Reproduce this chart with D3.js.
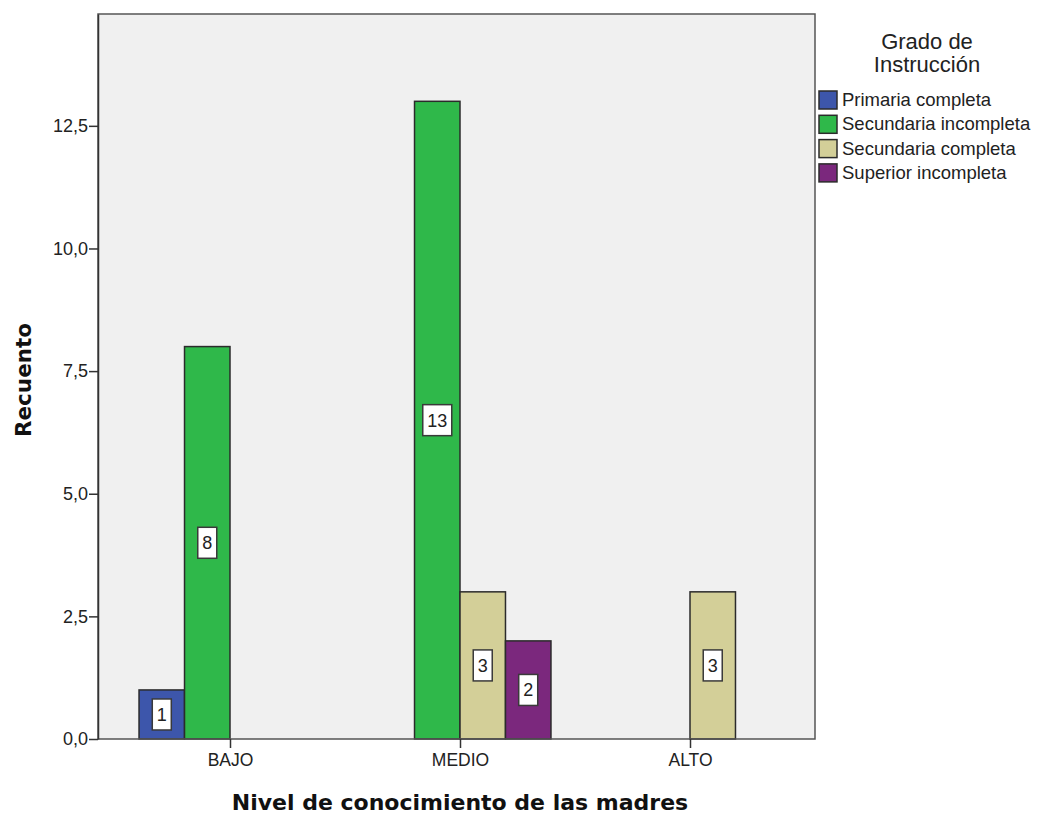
<!DOCTYPE html>
<html>
<head>
<meta charset="utf-8">
<script src="https://cdn.jsdelivr.net/npm/d3@7"></script>
<style>
  html, body { margin: 0; padding: 0; background: #ffffff; }
  svg { display: block; font-family: "Liberation Sans", Arial, sans-serif; }
</style>
</head>
<body>
<svg id="chart" width="1038" height="816"></svg>
<script>
// Conteos por nivel de conocimiento y grado de instrucción
const categories = ["BAJO", "MEDIO", "ALTO"];
const series = ["Primaria completa", "Secundaria incompleta", "Secundaria completa", "Superior incompleta"];
const colors = ["#3d56ab", "#2fb84a", "#d3cf98", "#7b287d"];
const values = {
  "Primaria completa":     [1, 0, 0],
  "Secundaria incompleta": [8, 13, 0],
  "Secundaria completa":   [0, 3, 3],
  "Superior incompleta":   [0, 2, 0]
};
const yTicks = [0, 2.5, 5, 7.5, 10, 12.5];
const yMax = 14.78;

const svg = d3.select("#chart");
const plot = { left: 98, right: 815, top: 14, bottom: 739 };
const sans = "Liberation Sans, Arial, sans-serif";
const bold = "DejaVu Sans, Verdana, sans-serif";

// fondo del área de trazado
svg.append("rect")
  .attr("x", plot.left).attr("y", plot.top)
  .attr("width", plot.right - plot.left).attr("height", plot.bottom - plot.top)
  .attr("fill", "#f0f0f0");

const y = d3.scaleLinear().domain([0, yMax]).range([plot.bottom, plot.top]);
const x0 = d3.scaleBand().domain(categories).range([115, 805])
  .paddingInner(0.209).paddingOuter(0.1045);
const x1 = d3.scaleBand().domain(series).range([0, x0.bandwidth()]);
const color = d3.scaleOrdinal().domain(series).range(colors);

const rows = [];
categories.forEach((c, i) => {
  series.forEach(s => {
    if (values[s][i] > 0) rows.push({ cat: c, ser: s, val: values[s][i] });
  });
});

// barras
const bars = svg.append("g");
bars.selectAll("rect").data(rows).enter().append("rect")
  .attr("x", d => x0(d.cat) + x1(d.ser))
  .attr("y", d => y(d.val))
  .attr("width", x1.bandwidth())
  .attr("height", d => y(0) - y(d.val))
  .attr("fill", d => color(d.ser))
  .attr("stroke", "#2b2b2b")
  .attr("stroke-width", 1.5);

// etiquetas de valor
const labels = svg.append("g");
rows.forEach(d => {
  const cx = x0(d.cat) + x1(d.ser) + x1.bandwidth() / 2;
  const cy = (y(d.val) + y(0)) / 2;
  const txt = String(d.val);
  const w = txt.length > 1 ? 29 : 19;
  const h = 31;
  labels.append("rect")
    .attr("x", cx - w / 2).attr("y", cy - h / 2)
    .attr("width", w).attr("height", h)
    .attr("fill", "#ffffff").attr("stroke", "#3a3a3a").attr("stroke-width", 1.5);
  labels.append("text")
    .attr("x", cx).attr("y", cy + 6.5)
    .attr("text-anchor", "middle")
    .attr("font-size", 18).attr("fill", "#222")
    .text(txt);
});

// marco
svg.append("rect")
  .attr("x", plot.left).attr("y", plot.top)
  .attr("width", plot.right - plot.left).attr("height", plot.bottom - plot.top)
  .attr("fill", "none").attr("stroke", "#555").attr("stroke-width", 1.5);

// eje Y
const fmt = v => d3.format(".1f")(v).replace(".", ",");
const yAxis = svg.append("g")
  .attr("transform", `translate(${plot.left},0)`)
  .call(d3.axisLeft(y).tickValues(yTicks).tickFormat(fmt)
    .tickSizeInner(9).tickSizeOuter(0).tickPadding(1));
yAxis.select(".domain").attr("stroke", "#333").attr("stroke-width", 1.5);
yAxis.selectAll(".tick line").attr("stroke", "#333").attr("stroke-width", 1.5);
yAxis.selectAll("text").attr("font-size", 18).attr("fill", "#222")
  .attr("font-family", sans);

// eje X
const xCenter = d3.scalePoint().domain(categories)
  .range([x0("BAJO") + x0.bandwidth() / 2, x0("ALTO") + x0.bandwidth() / 2]);
const xAxis = svg.append("g")
  .attr("transform", `translate(0,${plot.bottom})`)
  .call(d3.axisBottom(xCenter).tickSize(9).tickPadding(6));
xAxis.select(".domain").remove();
xAxis.selectAll(".tick line").attr("stroke", "#333").attr("stroke-width", 1.5);
xAxis.selectAll("text").attr("font-size", 17.5).attr("fill", "#222")
  .attr("font-family", sans);

// títulos de ejes
svg.append("text")
  .attr("x", 460).attr("y", 810)
  .attr("text-anchor", "middle").attr("font-family", bold)
  .attr("font-size", 22).attr("font-weight", "bold").attr("fill", "#111")
  .text("Nivel de conocimiento de las madres");
svg.append("text")
  .attr("transform", `translate(31,380) rotate(-90)`)
  .attr("text-anchor", "middle").attr("font-family", bold)
  .attr("font-size", 21.5).attr("font-weight", "bold").attr("fill", "#111")
  .text("Recuento");

// leyenda
const legend = svg.append("g");
legend.append("text")
  .attr("x", 927).attr("y", 49).attr("text-anchor", "middle")
  .attr("font-size", 22).attr("fill", "#222").text("Grado de");
legend.append("text")
  .attr("x", 927).attr("y", 72).attr("text-anchor", "middle")
  .attr("font-size", 22).attr("fill", "#222").text("Instrucción");
series.forEach((s, i) => {
  const yy = 91 + i * 24.3;
  legend.append("rect")
    .attr("x", 819).attr("y", yy).attr("width", 18).attr("height", 18)
    .attr("fill", color(s)).attr("stroke", "#2b2b2b").attr("stroke-width", 1.5);
  legend.append("text")
    .attr("x", 842).attr("y", yy + 15)
    .attr("font-size", 18.5).attr("fill", "#222").text(s);
});
</script>
</body>
</html>
